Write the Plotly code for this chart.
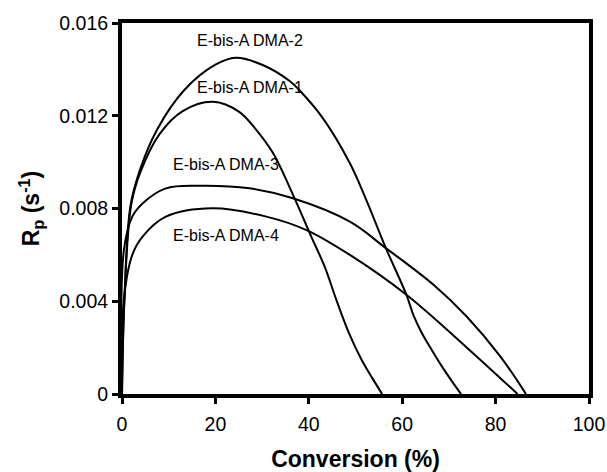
import plotly.graph_objects as go

# Rate of polymerization vs conversion for the four E-bis-A DMA formulations
dma1_conv = [0, 0.5, 2.0, 4.0, 8.0, 13.0, 19.5, 25.1, 28.7, 32.3, 36.6, 40.5, 43.4, 45.9,
             48.6, 51.3, 53.8, 55.7]
dma1_rp = [0.0, 0.0040, 0.0082, 0.0096, 0.0112, 0.0122, 0.0126, 0.01217, 0.01140, 0.01040,
           0.00860, 0.00680, 0.00549, 0.00406, 0.00263, 0.00148, 0.00062, 0.0]

dma2_conv = [0, 0.5, 1.8, 3.9, 7.5, 13.3, 20.0, 24.4, 30.0, 35.9, 38.0, 43.0, 48.8, 52.3,
             56.5, 60.9, 62.4, 64.2, 66.3, 68.5, 70.4, 72.6]
dma2_rp = [0.0, 0.0040, 0.0081, 0.0097, 0.0114, 0.0131, 0.0142, 0.0145, 0.0142, 0.0135,
           0.0131, 0.0119, 0.00995, 0.00837, 0.00629, 0.00428, 0.00340, 0.00263, 0.00191,
           0.00119, 0.00062, 0.0]

dma3_conv = [0, 0.4, 2.2, 4.4, 9.4, 16.5, 27.3, 36.6, 48.8, 56.5, 66.7, 73.8, 81.0, 86.5]
dma3_rp = [0.0, 0.0062, 0.00765, 0.00822, 0.00887, 0.00898, 0.00887, 0.00844, 0.00743,
           0.00629, 0.00471, 0.00334, 0.00162, 0.0]

dma4_conv = [0, 0.4, 2.2, 4.4, 9.4, 19.4, 30.9, 39.5, 48.8, 60.9, 73.8, 84.7]
dma4_rp = [0.0, 0.00406, 0.0060, 0.00679, 0.00765, 0.00801, 0.00765, 0.00707, 0.0060,
           0.00428, 0.00201, 0.0]

series_names = ["E-bis-A DMA-1", "E-bis-A DMA-2", "E-bis-A DMA-3", "E-bis-A DMA-4"]
series = [(dma1_conv, dma1_rp), (dma2_conv, dma2_rp), (dma3_conv, dma3_rp), (dma4_conv, dma4_rp)]

x_ticks = [0, 20, 40, 60, 80, 100]
y_ticks = [0, 0.004, 0.008, 0.012, 0.016]
y_tick_text = ["0", "0.004", "0.008", "0.012", "0.016"]

fig = go.Figure()
for name, (cx, cy) in zip(series_names, series):
    fig.add_trace(go.Scatter(
        x=cx, y=cy, mode="lines", name=name,
        line=dict(color="black", width=2, shape="spline", smoothing=1.0),
        showlegend=False, cliponaxis=True,
    ))

# curve labels placed beside each curve
label_pos = {
    "E-bis-A DMA-2": (27.4, 0.01526),
    "E-bis-A DMA-1": (27.4, 0.01323),
    "E-bis-A DMA-3": (22.2, 0.00990),
    "E-bis-A DMA-4": (22.3, 0.00683),
}
for name in series_names:
    lx, ly = label_pos[name]
    fig.add_annotation(x=lx, y=ly, xref="x", yref="y", text=name, showarrow=False,
                       font=dict(family="Liberation Sans, Arial", size=16, color="black"))

axis_common = dict(
    showgrid=False, zeroline=False, showline=True, linecolor="black", linewidth=4,
    mirror=True, ticks="outside", ticklen=6, tickwidth=3, tickcolor="black",
    automargin=False,
    tickfont=dict(family="Liberation Sans, Arial", size=19.5, color="black"),
)

fig.update_xaxes(range=[0, 100], tickvals=x_ticks, ticktext=[str(v) for v in x_ticks],
                 ticklabelstandoff=4,
                 title=dict(text="<b>Conversion (%)</b>", standoff=18,
                            font=dict(family="Liberation Sans, Arial", size=23, color="black")),
                 **axis_common)
fig.update_yaxes(range=[0, 0.016], tickvals=y_ticks, ticktext=y_tick_text,
                 title=dict(text="<b>R<sub>p</sub> (s<sup>-1</sup>)</b>", standoff=14,
                            font=dict(family="Liberation Sans, Arial", size=23, color="black")),
                 **axis_common)

fig.update_layout(
    width=607, height=472,
    margin=dict(l=122, r=18, t=23, b=78),
    paper_bgcolor="white", plot_bgcolor="white",
)

fig.write_html("out.html")
